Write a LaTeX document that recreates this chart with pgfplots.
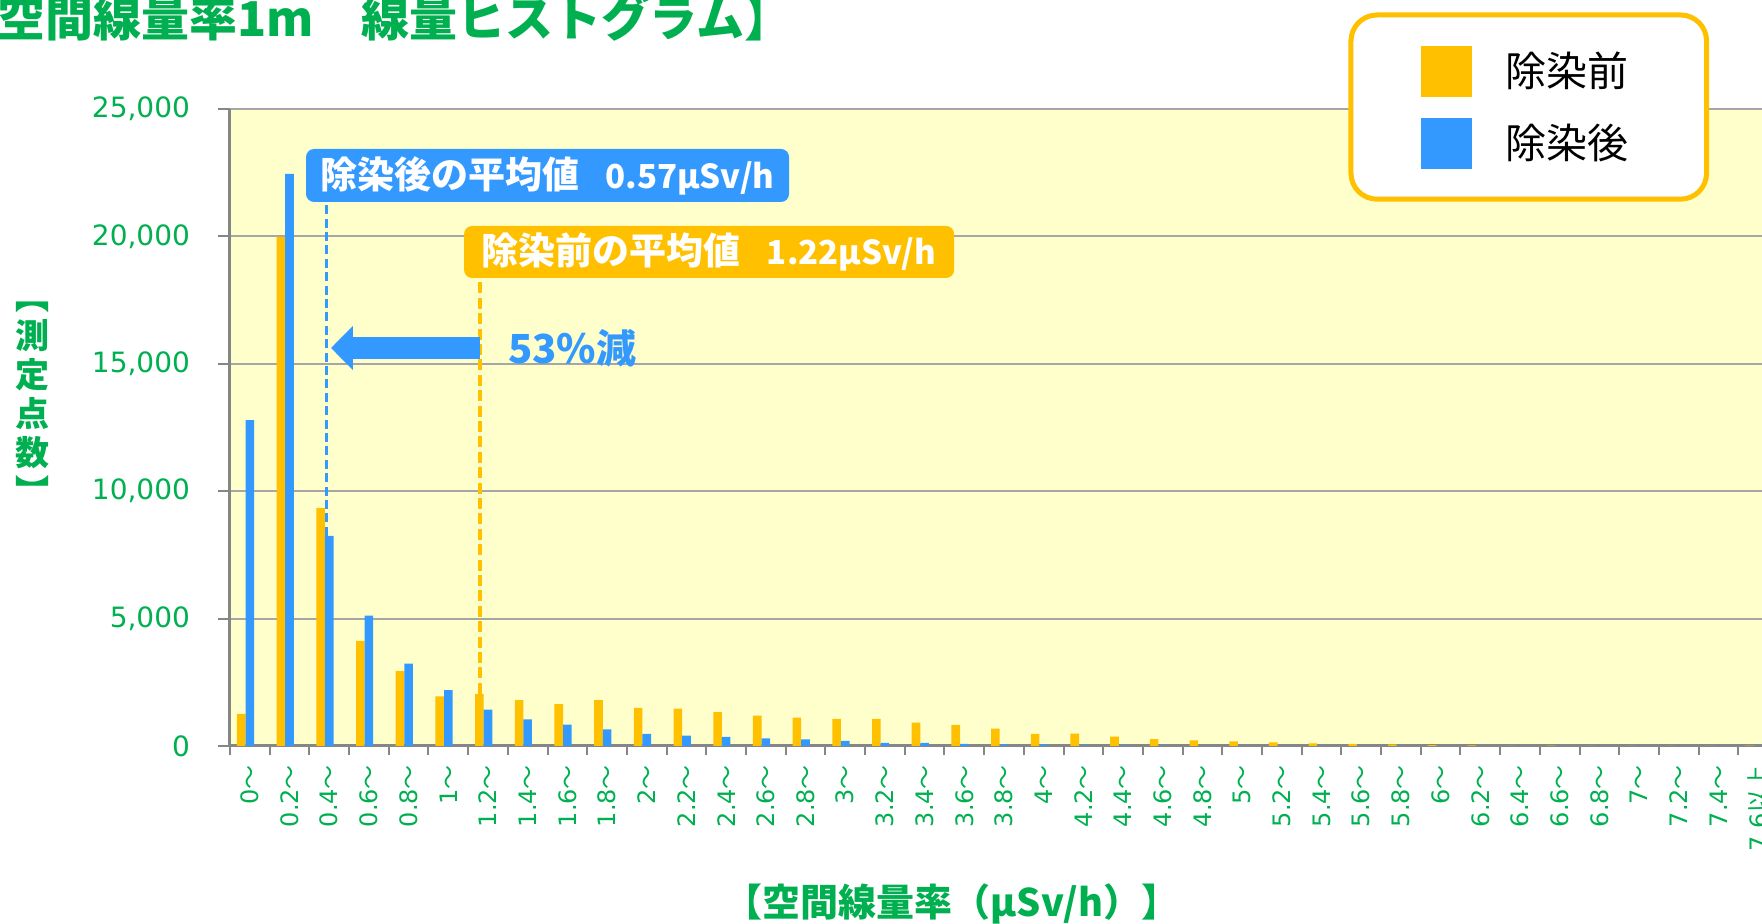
\documentclass[border=0pt]{standalone}
\usepackage{pgfplots}
\usepackage{pgfplotstable}
\pgfplotsset{compat=1.18}
\usepackage{fontspec}
\setmainfont{DejaVu Sans}
\newfontfamily\cjk{Noto Sans CJK JP}
\usetikzlibrary{arrows.meta}
\definecolor{cOrange}{HTML}{FFC000}
\definecolor{cBlue}{HTML}{3399FF}
\definecolor{cYellow}{HTML}{FFFFCC}
\definecolor{cGreen}{HTML}{00B050}
\definecolor{cGrid}{RGB}{166,166,166}
\definecolor{cAxis}{RGB}{134,134,134}
\newcommand{\T}{{\cjk ～}}

\pgfplotstableread{
x before after
0 1260 12790
1 19980 22450
2 9350 8250
3 4130 5120
4 2950 3230
5 1945 2195
6 2050 1425
7 1800 1040
8 1645 835
9 1800 655
10 1500 478
11 1470 410
12 1330 360
13 1190 295
14 1115 255
15 1065 200
16 1065 125
17 915 120
18 830 85
19 685 58
20 475 55
21 490 25
22 370 20
23 270 15
24 220 8
25 180 5
26 140 3
27 100 3
28 85 2
29 60 0
30 30 0
31 25 0
32 5 0
33 15 0
34 5 0
35 0 0
36 0 0
37 0 0
38 10 0
}\histdata

\begin{document}
\begin{tikzpicture}
\begin{axis}[
  at={(115pt,89pt)}, anchor=south west,
  scale only axis, width=774pt, height=318.5pt,
  ybar, bar width=4.3pt,
  xmin=-0.5, xmax=38.5, ymin=0, ymax=25000,
  clip=false,
  axis background/.style={fill=cYellow},
  axis x line*=bottom, axis y line*=left,
  axis line style={cAxis, line width=1.5pt, -},
  ytick={0,5000,10000,15000,20000,25000},
  scaled y ticks=false,
  /pgf/number format/.cd, 1000 sep={,}, assume math mode=true, /pgfplots/.cd,
  ymajorgrids, grid style={cGrid, line width=1pt},
  xtick={0,...,38},
  xticklabels={{0\T},{0.2\T},{0.4\T},{0.6\T},{0.8\T},{1\T},{1.2\T},{1.4\T},{1.6\T},{1.8\T},{2\T},{2.2\T},{2.4\T},{2.6\T},{2.8\T},{3\T},{3.2\T},{3.4\T},{3.6\T},{3.8\T},{4\T},{4.2\T},{4.4\T},{4.6\T},{4.8\T},{5\T},{5.2\T},{5.4\T},{5.6\T},{5.8\T},{6\T},{6.2\T},{6.4\T},{6.6\T},{6.8\T},{7\T},{7.2\T},{7.4\T},{7.6{\cjk 以上}}},
  minor xtick={-0.5,0.5,...,38.5},
  tick align=outside,
  major tick length=6pt, minor tick length=4.5pt,
  tick style={cAxis, line width=1pt},
  major x tick style={draw=none},
  xticklabel style={rotate=90, anchor=east, font=\fontsize{12}{14}\selectfont, text=cGreen},
  yticklabel style={font=\fontsize{14}{16}\selectfont, text=cGreen, xshift=-10.5pt},
  legend style={at={(0.839,1.003)}, anchor=center, draw=cOrange, line width=2.5pt,
    rounded corners=13pt, fill=white, font=\cjk\fontsize{20.5}{24}\selectfont,
    inner xsep=35pt, inner ysep=15.3pt, row sep=10.5pt, nodes={inner sep=0pt}},
]
\addplot[fill=cOrange, draw=none, bar shift=-4.3pt,
  legend image code/.code={\fill[cOrange, sharp corners] (0pt,-12.75pt) rectangle (25.5pt,12.75pt); \path[draw=none, fill=none] (42.3pt,0pt);}]
  table[x=x, y=before] {\histdata};
\addplot[fill=cBlue, draw=none, bar shift=0pt,
  legend image code/.code={\fill[cBlue, sharp corners] (0pt,-12.75pt) rectangle (25.5pt,12.75pt); \path[draw=none, fill=none] (42.3pt,0pt);}]
  table[x=x, y=after] {\histdata};
\legend{除染前\rule{4pt}{0pt},除染後\rule{4pt}{0pt}}

\draw[cBlue, line width=1.6pt, dash pattern=on 4.5pt off 2.2pt] (axis cs:1.94,8250) -- (axis cs:1.94,21350);
\draw[cOrange, line width=1.6pt, dash pattern=on 5.5pt off 2.2pt] (axis cs:5.8,2050) -- (axis cs:5.8,18367);
\node[fill=cBlue, rounded corners=4pt, minimum width=241.5pt, minimum height=26.5pt, inner sep=0pt, text=white, font=\cjk\bfseries\fontsize{18.5}{20}\selectfont] at (axis cs:7.5,22390) {除染後の平均値\hspace{13pt}{\fontsize{16.5}{18}\selectfont 0.57μSv/h}};
\node[fill=cOrange, rounded corners=4pt, minimum width=245pt, minimum height=26pt, inner sep=0pt, text=white, font=\cjk\bfseries\fontsize{18.5}{20}\selectfont] at (axis cs:11.57,19388) {除染前の平均値\hspace{13pt}{\fontsize{16.5}{18}\selectfont 1.22μSv/h}};
\draw[cBlue, line width=11pt, -{Triangle[width=21.5pt, length=11pt]}] (axis cs:5.797,15620) -- (axis cs:2.044,15620);
\node[anchor=west, inner sep=0pt, text=cBlue, font=\cjk\bfseries\fontsize{20}{22}\selectfont] at (axis cs:6.5,15620) {53\%減};
\end{axis}
\node[anchor=base west, inner sep=0pt, text=cGreen, font=\cjk\bfseries\fontsize{24}{27}\selectfont] at (-25.5pt,443.6pt) {【空間線量率1m　線量ヒストグラム】};
\node[align=center, text=cGreen, font=\cjk\bfseries\fontsize{17}{19.5}\selectfont, inner sep=0pt] at (16.5pt,260.5pt) {︻\\測\\定\\点\\数\\︼};
\node[text=cGreen, font=\cjk\bfseries\fontsize{19}{22}\selectfont, inner sep=0pt] at (476pt,10pt) {【空間線量率（μSv/h）】};
\pgfresetboundingbox
\path[use as bounding box] (0pt,0pt) rectangle (881pt,462pt);
\end{tikzpicture}
\end{document}
